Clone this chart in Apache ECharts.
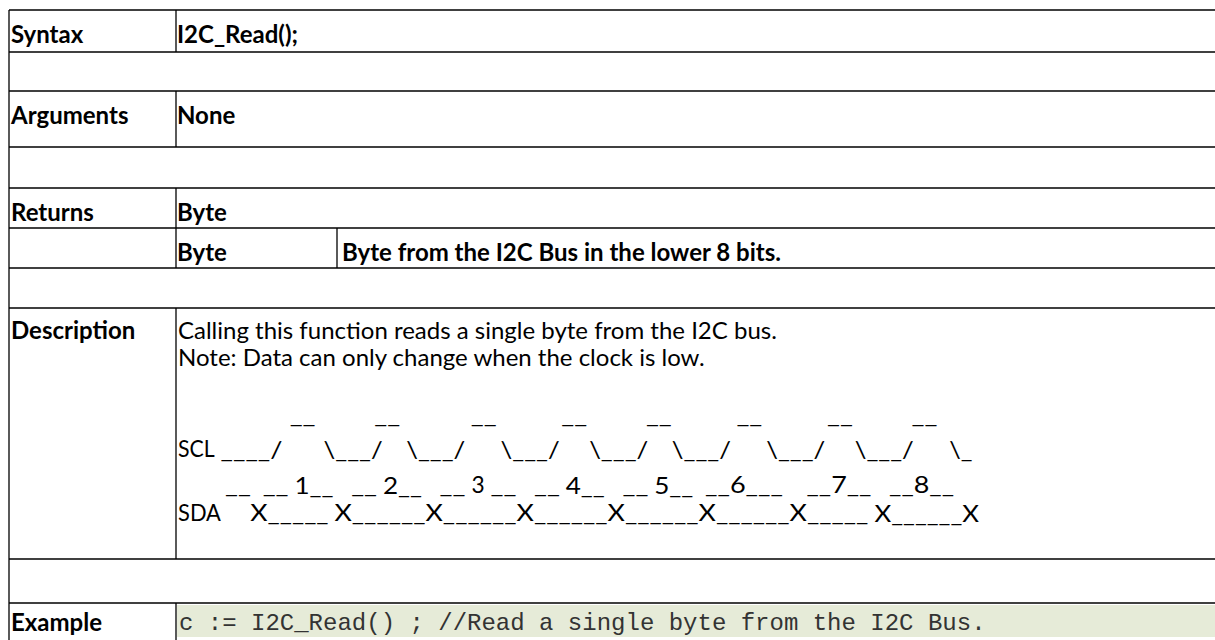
<!DOCTYPE html>
<html><head><meta charset="utf-8">
<script src="https://cdn.jsdelivr.net/npm/echarts@6/dist/echarts.min.js"></script>
<style>html,body{margin:0;padding:0;background:#fff}#c{width:1215px;height:640px}</style>
</head><body><div id="c"></div>
<script>
// ---------------- data ----------------
const rowLabels = ['Syntax', '', 'Arguments', '', 'Returns', '', '', 'Description', '', 'Example'];
const rowValues = ['I2C_Read();', '', 'None', '', 'Byte', 'Byte', '', '', '', ''];
const returnDetail = 'Byte from the I2C Bus in the lower 8 bits.';
const descriptionLines = [
  'Calling this function reads a single byte from the I2C bus.',
  'Note: Data can only change when the clock is low.'
];
const sp = n => ' '.repeat(n);
const timingOverline = sp(19) + '__' + sp(10) + '__' + sp(12) + '__' + sp(11) + '__' + sp(10) + '__' + sp(11) + '__' + sp(11) + '__' + sp(10) + '__';
const timingSCL = 'SCL ____/' + sp(7) + '\\___/' + sp(4) + '\\___/' + sp(6) + '\\___/' + sp(5) + '\\___/' + sp(4) + '\\___/' + sp(6) + '\\___/' + sp(5) + '\\___/' + sp(6) + '\\_';
const timingBits = sp(8) + '__' + sp(2) + '__ 1__' + sp(3) + '__ 2__' + sp(3) + '__ 3 __' + sp(3) + '__ 4__' + sp(3) + '__ 5__' + sp(2) + '__6___' + sp(4) + '__7__' + sp(3) + '__8__';
const timingSDA = 'SDA' + sp(5) + 'X_____ X______X______X______X______X______X_____ X______X';
const timingLines = [timingOverline, timingSCL, timingBits, timingSDA];
const exampleCode = 'c := I2C_Read() ; //Read a single byte from the I2C Bus.';

// ---------------- layout / style ----------------
const W = 1215;
const colX = [9, 176, 337, W];
const rowEdges = [10, 52, 91, 147, 188, 228, 268, 308, 559, 603, 700];
const mergedRow = [false, true, false, true, false, false, true, false, true, false];
const LW = 1.3;
const FS = 24;
const FONT = 'Lato, "Open Sans", sans-serif';
const descLineY = [329, 356];
const timingY = [414, 448.5, 484, 512];
const textX0 = 178;
// Calibri advance widths (em) used to space the ASCII timing diagram like the source document
const calibriEm = {' ': 0.226, '_': 0.498, '/': 0.386, '\\': 0.395, 'X': 0.519, 'S': 0.459, 'C': 0.533, 'L': 0.420, 'D': 0.615, 'A': 0.579};
const calibriPx = 26;
function cw(ch) { return (calibriEm[ch] !== undefined ? calibriEm[ch] : 0.507) * calibriPx; }
const mctx = document.createElement('canvas').getContext('2d');
function measure(s, font) { mctx.font = font; return mctx.measureText(s).width; }

const els = [];
function hline(x1, x2, y) { els.push({type: 'line', silent: true, shape: {x1, y1: y, x2, y2: y}, style: {stroke: '#000', lineWidth: LW}}); }
function vline(x, y1, y2) { els.push({type: 'line', silent: true, shape: {x1: x, y1, x2: x, y2}, style: {stroke: '#000', lineWidth: LW}}); }
function txt(s, x, y, opt) {
  opt = opt || {};
  const el = {type: 'text', silent: true, x, y, style: {
    text: s, fill: opt.fill || '#000',
    font: (opt.bold ? 'bold ' : '') + (opt.size || FS) + 'px ' + (opt.family || FONT),
    textAlign: 'left', textVerticalAlign: 'middle', verticalAlign: 'middle'
  }};
  if (opt.scaleX) el.scaleX = opt.scaleX;
  els.push(el);
}

// example row background
els.push({type: 'rect', silent: true, shape: {x: colX[1] + 1, y: rowEdges[9] + 2, width: W - colX[1] - 1, height: 32}, style: {fill: '#E6EBD8'}});

// horizontal lines
for (let i = 0; i < rowEdges.length - 1; i++) hline(colX[0], W, rowEdges[i]);
// left border
vline(colX[0], rowEdges[0], 640);
// column divider
for (let i = 0; i < rowLabels.length; i++) {
  if (!mergedRow[i]) vline(colX[1], rowEdges[i], Math.min(rowEdges[i + 1], 640));
}
// sub-column divider in the second Byte row
vline(colX[2], rowEdges[5], rowEdges[6]);

// labels and values
for (let i = 0; i < rowLabels.length; i++) {
  const top = rowEdges[i];
  const cy = (i === 7 || i === 9) ? (i === 7 ? descLineY[0] : 621.5) : top + 23.5;
  if (rowLabels[i]) txt(rowLabels[i], colX[0] + 2, cy, {bold: true});
  if (rowValues[i]) txt(rowValues[i], colX[1] + 1, cy, {bold: true});
}
txt(returnDetail, colX[2] + 5, rowEdges[5] + 23.5, {bold: true});

// description
descriptionLines.forEach((s, k) => txt(s, textX0, descLineY[k]));
const runFont = FS + 'px Lato';
timingLines.forEach((line, k) => {
  let x = textX0, run = '', runX = 0, runW = 0;
  const flush = () => {
    if (!run) return;
    const m = measure(run, runFont);
    txt(run, runX, timingY[k], {scaleX: m > 0 ? runW / m : 1});
    run = ''; runW = 0;
  };
  for (const ch of line) {
    if (ch === ' ') flush();
    else {
      if (!run) runX = x;
      run += ch; runW += cw(ch);
    }
    x += cw(ch);
  }
  flush();
});

// example code
txt(exampleCode, colX[1] + 3, 623, {family: '"Liberation Mono", "DejaVu Sans Mono", monospace', fill: '#333'});

const chart = echarts.init(document.getElementById('c'), null, {renderer: 'svg'});
chart.setOption({animation: false, graphic: {elements: els}});
</script>
</body></html>
